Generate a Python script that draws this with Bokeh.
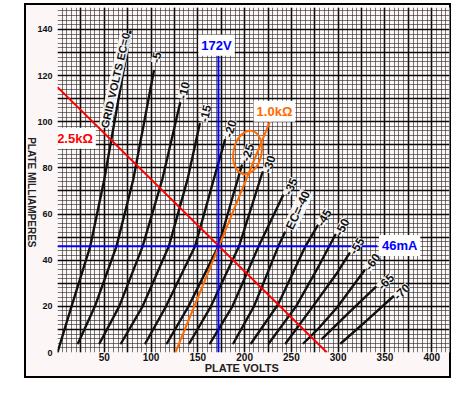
import math
from bokeh.plotting import figure
from bokeh.models import (Range1d, SingleIntervalTicker, FixedTicker, Label, LabelSet,
                          ColumnDataSource, LinearAxis)
from bokeh.core.properties import value
from bokeh.embed import file_html
from bokeh.resources import INLINE

# ---------------- data ----------------
x_ticks = [50, 100, 150, 200, 250, 300, 350, 400]
y_ticks = [0, 20, 40, 60, 80, 100, 120, 140]
x_title = "PLATE VOLTS"
y_title = "PLATE MILLIAMPERES"

grid_volts = [0, -5, -10, -15, -20, -25, -30, -35, -40, -45, -50, -55, -60, -65, -70]

ec00_v = [0, 15, 35, 50, 64, 78]
ec00_ma = [0, 20, 46, 75, 107, 139]
ec05_v = [22, 40, 63, 81, 103]
ec05_ma = [4, 20, 46, 75, 122]
ec10_v = [45, 66, 91, 112, 131]
ec10_ma = [4, 20, 46, 75, 108]
ec15_v = [68, 91, 119, 139, 152]
ec15_ma = [4, 20, 46, 75, 99]
ec20_v = [94, 116, 147, 167, 179]
ec20_ma = [4, 20, 46, 75, 92]
ec25_v = [117, 140, 172, 189, 197]
ec25_ma = [4, 20, 46, 70, 81]
ec30_v = [141, 164, 194, 219]
ec30_ma = [4, 20, 46, 78]
ec35_v = [163, 187, 215, 241]
ec35_ma = [4, 20, 46, 68]
ec40_v = [188, 210, 236, 243]
ec40_ma = [4, 20, 46, 52]
ec45_v = [207, 236, 265, 278]
ec45_ma = [4, 21, 46, 55]
ec50_v = [226, 255, 280, 297]
ec50_ma = [4, 20, 38, 51]
ec55_v = [244, 273, 298, 312]
ec55_ma = [4, 20, 34, 43]
ec60_v = [263, 278, 299, 328]
ec60_ma = [4, 10, 19.6, 35.5]
ec65_v = [283, 312, 340]
ec65_ma = [6, 17.5, 28.3]
ec70_v = [303, 331, 360]
ec70_ma = [4, 14, 24.7]

curve_labels = ["-5", "-10", "-15", "-20", "-25", "-30", "-35", "EC=-40",
                "-45", "-50", "-55", "-60", "-65", "-70"]
curve_label_v = [105.5, 134.9, 157.8, 184.4, 203.1, 226, 249, 257,
                 284.6, 303.8, 319.8, 336.4, 350.7, 367.8]
curve_label_ma = [127.9, 113.6, 103.6, 97.1, 86.7, 81.7, 72, 61.6,
                  58.5, 54.4, 46.2, 39.4, 30.8, 26.4]

q_volts = 172
q_ma = 46
load_25k_v = [0, 288]
load_25k_ma = [115, 0]
load_10k_v = [126, 228]
load_10k_ma = [0, 101]
vline_ma = [0, 128.7]
hline_v = [0, 342]

# ---------------- layout ----------------
X0, X1 = 0, 419
Y0, Y1 = 0, 149.5
W, H = 434, 375
ML, MR, MT, MB = 39, 2, 4, 26
sx = (W - ML - MR) / (X1 - X0)
sy = (H - MT - MB) / (Y1 - Y0)

PINK = "#fdf6f6"
frame_css = ("linear-gradient(#000,#000) 7px 0 / 2px 100% no-repeat, "
             "linear-gradient(#000,#000) 100% 0 / 2px 100% no-repeat, "
             "linear-gradient(#000,#000) 7px 0 / calc(100% - 7px) 2px no-repeat, "
             "linear-gradient(#000,#000) 7px 100% / calc(100% - 7px) 2px no-repeat, "
             f"linear-gradient({PINK},{PINK}) 7px 0 / calc(100% - 7px) 100% no-repeat, "
             "#ffffff")

p = figure(width=W, height=H, x_range=Range1d(X0, X1), y_range=Range1d(Y0, Y1),
           output_backend="svg", toolbar_location=None,
           min_border_left=ML, min_border_right=MR, min_border_top=MT, min_border_bottom=MB,
           background_fill_color=PINK, border_fill_alpha=0)
p.styles = {"margin-left": "17px", "margin-top": "3px", "background": frame_css}
p.outline_line_color = None

# graph paper grid
p.xgrid.ticker = SingleIntervalTicker(interval=25, num_minor_ticks=5)
p.ygrid.ticker = SingleIntervalTicker(interval=10, num_minor_ticks=5)
for g in (p.xgrid, p.ygrid):
    g.grid_line_color = "#000000"
    g.grid_line_alpha = 0.9
    g.grid_line_width = 1.6
    g.minor_grid_line_color = "#222222"
    g.minor_grid_line_alpha = 0.6
    g.minor_grid_line_width = 1

def plain_axis(ax):
    ax.axis_line_color = None
    ax.major_tick_line_color = None
    ax.minor_tick_line_color = None
    ax.major_tick_out = 0
    ax.major_tick_in = 0
    ax.major_label_text_font = "Liberation Sans"
    ax.major_label_text_font_style = "bold"
    ax.major_label_text_color = "#111111"

# tick axes
p.xaxis.ticker = FixedTicker(ticks=x_ticks)
p.yaxis.ticker = FixedTicker(ticks=y_ticks)
for ax in (p.xaxis[0], p.yaxis[0]):
    plain_axis(ax)
p.xaxis.major_label_text_font_size = "10px"
p.xaxis.major_label_standoff = 0
p.yaxis.major_label_text_font_size = "9px"
p.yaxis.major_label_standoff = 5

# title axes (one labelled tick each, so that the titles sit where the reference has them)
x_title_at = 197
y_title_at = 45.5
xt = LinearAxis(ticker=FixedTicker(ticks=[x_title_at]),
                major_label_overrides={x_title_at: x_title}, major_label_standoff=-2)
plain_axis(xt)
xt.major_label_text_font_size = "11px"
xt.major_label_text_color = "#222222"
p.add_layout(xt, "below")

yt = LinearAxis(ticker=FixedTicker(ticks=[y_title_at]),
                major_label_overrides={y_title_at: y_title}, major_label_standoff=3,
                major_label_orientation=-math.pi / 2)
plain_axis(yt)
yt.major_label_text_font_size = "10px"
yt.major_label_text_color = "#222222"
p.add_layout(yt, "left")

# characteristic curves
curves_v = [ec00_v, ec05_v, ec10_v, ec15_v, ec20_v, ec25_v, ec30_v, ec35_v,
            ec40_v, ec45_v, ec50_v, ec55_v, ec60_v, ec65_v, ec70_v]
curves_ma = [ec00_ma, ec05_ma, ec10_ma, ec15_ma, ec20_ma, ec25_ma, ec30_ma, ec35_ma,
             ec40_ma, ec45_ma, ec50_ma, ec55_ma, ec60_ma, ec65_ma, ec70_ma]
for cv, cm in zip(curves_v, curves_ma):
    p.line(cv, cm, line_color="#111111", line_width=2.4, line_join="round", line_cap="round")

def seg_angle(cv, cm):
    return math.atan2((cm[-1] - cm[-2]) * sy, (cv[-1] - cv[-2]) * sx)

angles = [seg_angle(cv, cm) for cv, cm in zip(curves_v[1:], curves_ma[1:])]
src = ColumnDataSource(dict(x=curve_label_v, y=curve_label_ma, t=curve_labels, a=angles))
p.add_layout(LabelSet(x="x", y="y", text="t", angle="a", source=src,
                      text_align="center", text_baseline="middle",
                      text_font=value("Liberation Sans"), text_font_style="bold",
                      text_font_size="12px", text_color="#111111",
                      background_fill_color="white", background_fill_alpha=0.85))
p.add_layout(Label(x=61.8, y=117.9, text="GRID VOLTS EC=0", angle=seg_angle(ec00_v, ec00_ma) - 0.05,
                   text_align="center", text_baseline="middle", text_font="Liberation Sans",
                   text_font_style="bold", text_font_size="11px", text_color="#111111",
                   background_fill_color="white", background_fill_alpha=0.85))

# load lines and operating point
p.line(load_25k_v, load_25k_ma, line_color="#ff0000", line_width=2)
p.line(load_10k_v, load_10k_ma, line_color="#ff6a00", line_width=2)
p.line([q_volts, q_volts], vline_ma, line_color="#0000ff", line_width=2)
p.line(hline_v, [q_ma, q_ma], line_color="#0000ff", line_width=2)
p.ellipse(x=[203.1], y=[86.7], width=28, height=44, width_units="screen", height_units="screen",
          angle=-0.2, fill_color=None, line_color="#ff6a00", line_width=2)

def box_label(x, y, text, color):
    p.add_layout(Label(x=x, y=y, text=text, text_color=color, text_font="Liberation Sans",
                       text_font_style="bold", text_font_size="13px",
                       text_align="center", text_baseline="middle",
                       background_fill_color="white", padding=3))

box_label(170.0, 133.1, "172V", "#0000ff")
box_label(18.7, 92.8, "2.5k\u03a9", "#ff0000")
box_label(231.9, 104.5, "1.0k\u03a9", "#ff6a00")
box_label(365.7, 46.4, "46mA", "#0000ff")

open("out.html", "w").write(file_html(p, INLINE))
